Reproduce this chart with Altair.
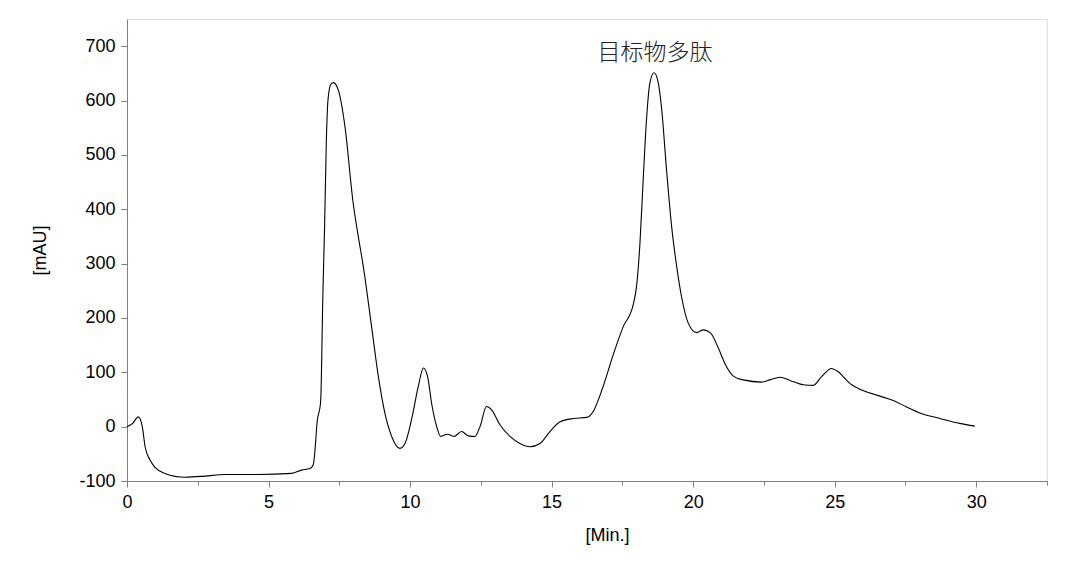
import altair as alt
import pandas as pd

# Retention time (min) and absorbance (mAU)
minutes = [0.0, 0.2, 0.40, 0.54, 0.64, 0.81, 0.99, 1.34, 2.05, 2.76, 3.46, 4.64, 5.82,
           6.17, 6.46, 6.58, 6.62, 6.72, 6.84, 6.92, 6.98, 7.04, 7.10, 7.20, 7.29, 7.46,
           7.70, 7.99, 8.17, 8.35, 8.64, 8.88, 9.11, 9.35, 9.64, 9.82, 10.06, 10.29,
           10.47, 10.62, 10.76, 10.94, 11.08, 11.32, 11.55, 11.82, 12.06, 12.29, 12.47,
           12.70, 12.88, 13.18, 13.53, 13.88, 14.24, 14.59, 14.94, 15.30, 15.77, 16.24,
           16.47, 16.80, 17.18, 17.53, 17.88, 18.00, 18.12, 18.24, 18.36, 18.47, 18.62,
           18.77, 18.89, 19.06, 19.24, 19.42, 19.59, 19.83, 20.12, 20.36, 20.62, 20.87,
           21.16, 21.42, 21.77, 22.42, 22.71, 23.07, 23.42, 23.89, 24.24, 24.54, 24.89,
           25.07, 25.60, 25.89, 26.48, 27.07, 27.54, 28.01, 28.72, 29.42, 29.95]
mau = [0, 6, 18, 0, -37, -61, -75, -86, -93, -91, -88, -88, -86,
       -80, -77, -70, -55, 10, 45, 245, 368, 521, 601, 630, 633, 620,
       552, 411, 350, 294, 184, 92, 25, -18, -40, -31, 15, 74,
       108, 92, 43, 0, -18, -14, -18, -9, -17, -18, 0,
       37, 31, 3, -18, -31, -37, -31, -9, 9, 15, 17,
       28, 71, 133, 184, 224, 258, 337, 460, 571, 632, 651,
       632, 583, 472, 368, 294, 239, 190, 173, 178, 172, 147,
       112, 93, 86, 82, 86, 91, 85, 77, 76, 92, 107,
       103, 77, 69, 58, 48, 36, 25, 15, 6, 1]

# Axis tick positions (major + minor)
x_ticks = [0, 2.5, 5, 7.5, 10, 12.5, 15, 17.5, 20, 22.5, 25, 27.5, 30, 32.5]
y_ticks = [-100, -50, 0, 50, 100, 150, 200, 250, 300, 350, 400, 450, 500, 550, 600, 650, 700]

# Peak annotation
label_text = ["目标物多肽"]
label_x = [18.65]
label_y = [688]

df = pd.DataFrame({"t": minutes, "v": mau})
ann = pd.DataFrame({"t": label_x, "v": label_y, "s": label_text})

x_scale = alt.Scale(domain=[0, 32.5], nice=False, zero=False)
y_scale = alt.Scale(domain=[-100, 750], nice=False, zero=False)

axis_gray = "#808080"
font = "Liberation Sans"

x_axis = alt.Axis(
    values=x_ticks,
    title="[Min.]",
    labelExpr="datum.value % 5 === 0 ? datum.value + '' : ''",
    tickSize={"condition": {"test": "datum.value % 5 === 0", "value": 6}, "value": 4},
    grid=False,
    labelFlush=False,
    labelOverlap=False,
    domainColor=axis_gray,
    tickColor=axis_gray,
    labelFont=font,
    labelFontSize=18,
    labelColor="#000000",
    labelPadding=6,
    titleFont=font,
    titleFontSize=18,
    titleFontWeight="normal",
    titleColor="#000000",
    titleX=480,
    titleY=54,
    titleBaseline="middle",
    titleAlign="center",
)

y_axis = alt.Axis(
    values=y_ticks,
    title="[mAU]",
    labelExpr="datum.value % 100 === 0 ? datum.value + '' : ''",
    tickSize={"condition": {"test": "datum.value % 100 === 0", "value": 6}, "value": 4},
    grid=False,
    labelFlush=False,
    labelOverlap=False,
    domainColor=axis_gray,
    tickColor=axis_gray,
    labelFont=font,
    labelFontSize=18,
    labelColor="#000000",
    labelPadding=6,
    titleFont=font,
    titleFontSize=18,
    titleFontWeight="normal",
    titleColor="#000000",
    titleX=-87,
    titleY=231,
    titleBaseline="middle",
    titleAlign="center",
    titleAngle=270,
)

line = alt.Chart(df).mark_line(color="#000000", strokeWidth=1.1, interpolate="monotone").encode(
    x=alt.X("t:Q", scale=x_scale, axis=x_axis),
    y=alt.Y("v:Q", scale=y_scale, axis=y_axis),
)

text = alt.Chart(ann).mark_text(
    font="Noto Sans CJK SC", fontSize=23, fontWeight=300, color="#222222",
    align="center", baseline="middle",
).encode(
    x=alt.X("t:Q", scale=x_scale),
    y=alt.Y("v:Q", scale=y_scale),
    text="s:N",
)

chart = alt.layer(line, text).properties(
    width=920,
    height=462,
    padding={"left": 119, "top": 11, "right": 20, "bottom": 70},
    autosize=alt.AutoSizeParams(type="none"),
).configure_view(stroke=axis_gray, strokeWidth=1).configure(background="white")

chart.save("out.html", embed_options={"renderer": "svg", "actions": False})
